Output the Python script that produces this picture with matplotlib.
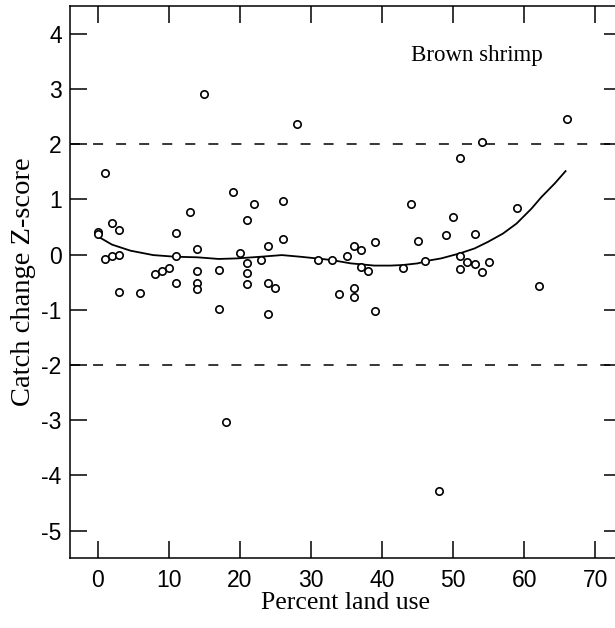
import matplotlib
matplotlib.use("Agg")
import matplotlib.pyplot as plt

# scatter data: percent land use vs catch change Z-score
land_use = [0, 0, 1, 1, 2, 2, 3, 3, 3, 6, 8, 9, 10, 11, 11, 11, 13, 14, 14, 14, 14, 15,
            17, 17, 18, 19, 20, 21, 21, 21, 21, 22, 23, 24, 24, 24, 25, 26, 26, 28,
            31, 33, 34, 35, 36, 36, 36, 37, 37, 38, 39, 39, 43, 44, 45, 46, 48, 49,
            50, 51, 51, 51, 52, 53, 53, 54, 54, 55, 59, 62, 66]
z_score = [0.41, 0.37, 1.47, -0.08, 0.57, -0.03, 0.44, 0.00, -0.67, -0.70, -0.35, -0.29,
           -0.25, 0.39, -0.03, -0.51, 0.77, 0.10, -0.29, -0.51, -0.63, 2.91,
           -0.28, -0.98, -3.03, 1.13, 0.03, 0.63, -0.15, -0.33, -0.53, 0.92, -0.10,
           0.15, -0.51, -1.08, -0.61, 0.97, 0.28, 2.37,
           -0.10, -0.10, -0.72, -0.02, 0.16, -0.60, -0.77, 0.09, -0.23, -0.30, 0.22,
           -1.03, -0.24, 0.92, 0.25, -0.11, -4.29, 0.35,
           0.68, 1.75, -0.03, -0.26, -0.14, 0.37, -0.17, 2.04, -0.31, -0.13, 0.85,
           -0.57, 2.46]

# fitted smooth curve
curve_x = [0, 2, 4.6, 7.8, 10.9, 14, 17, 19.6, 22.9, 25.9, 28.5, 30.8, 32.9, 35.6,
           38.9, 41.2, 42.9, 45, 46.5, 48.3, 50.9, 53, 54.9, 57, 58.9, 61, 62.4,
           64.3, 65.8]
curve_y = [0.33, 0.18, 0.07, -0.01, -0.04, -0.05, -0.08, -0.07, -0.04, -0.01, -0.04,
           -0.07, -0.10, -0.16, -0.20, -0.20, -0.19, -0.16, -0.11, -0.07, 0.02, 0.11,
           0.23, 0.38, 0.56, 0.83, 1.04, 1.29, 1.51]

ref_levels = [2, -2]
x_ticks = [0, 10, 20, 30, 40, 50, 60, 70]
y_ticks = [-5, -4, -3, -2, -1, 0, 1, 2, 3, 4]

plt.rcParams['lines.scale_dashes'] = False
plt.rcParams['axes.unicode_minus'] = False

fig = plt.figure(figsize=(6.15, 6.28), dpi=100)
ax = fig.add_axes([70 / 615, 1 - 558.3 / 628, 551 / 615, 552.3 / 628])

for lv in ref_levels:
    ax.axhline(lv, color='black', lw=1.1, linestyle=(0, (7.2, 9.4)))

ax.plot(curve_x, curve_y, color='black', lw=1.3)
ax.plot(land_use, z_score, linestyle='none', marker='o', markersize=5.3,
        markerfacecolor='white', markeredgecolor='black', markeredgewidth=1.2)

ax.set_xlim(-3.9, 73.6)
ax.set_ylim(-5.5, 4.5)
ax.set_xticks(x_ticks)
ax.set_yticks(y_ticks)

for s in ax.spines.values():
    s.set_linewidth(1.1)

ax.tick_params(direction='in', length=12, width=1.1, top=True, right=True,
               labelsize=16.5)
ax.tick_params(axis='x', pad=8)
ax.tick_params(axis='y', pad=6)
for lab in ax.get_xticklabels() + ax.get_yticklabels():
    lab.set_fontfamily('Liberation Sans')

ax.set_xlabel('Percent land use', fontfamily='Liberation Serif', fontsize=18.5, labelpad=0)
ax.set_ylabel('Catch change Z-score', fontfamily='Liberation Serif', fontsize=20.5, labelpad=4)

fig.text(477 / 615, 1 - 55 / 628, 'Brown shrimp', fontfamily='Liberation Serif',
         fontsize=16.5, ha='center', va='center')

fig.savefig('out.png', dpi=100)
